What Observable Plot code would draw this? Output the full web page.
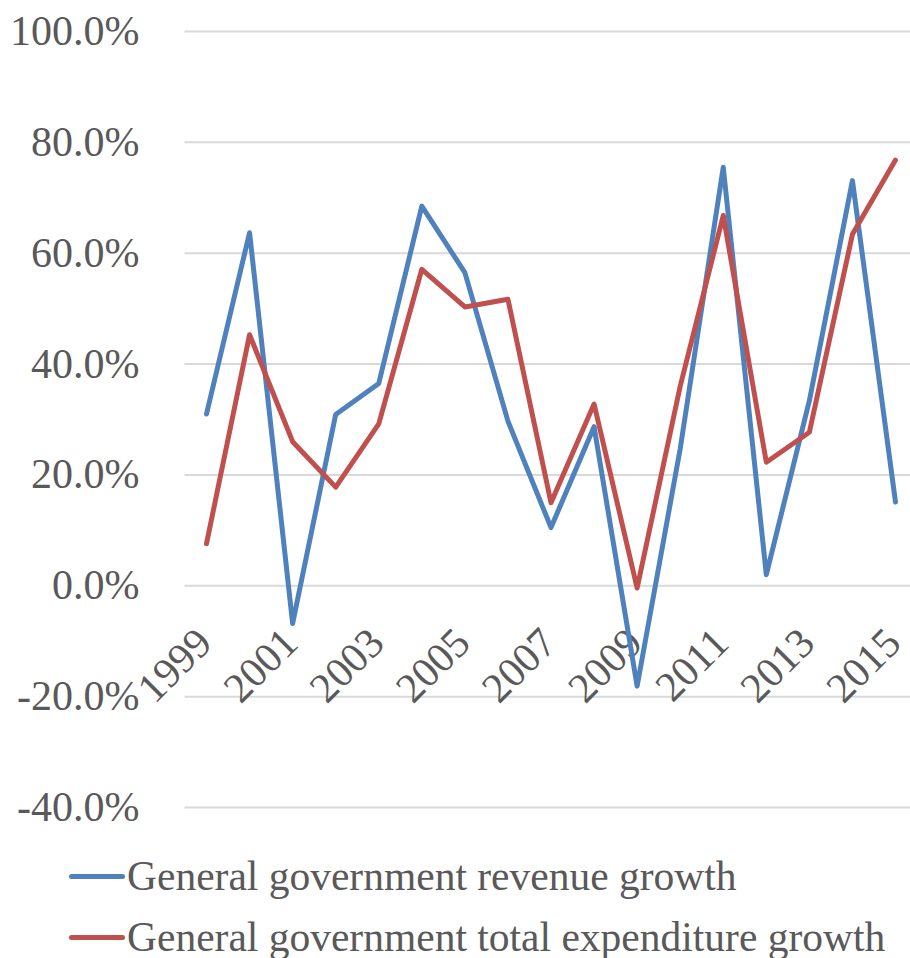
<!DOCTYPE html>
<html>
<head>
<meta charset="utf-8">
<script src="https://cdn.jsdelivr.net/npm/d3@7"></script>
<script src="https://cdn.jsdelivr.net/npm/@observablehq/plot@0.6"></script>
<style>
  html, body { margin: 0; padding: 0; background: #fff; }
  #chart svg { display: block; }
  .legend { font-family: "Liberation Serif", serif; font-size: 41.5px; color: #595959; padding-left: 69px; }
  .legend .row { height: 61px; display: flex; align-items: center; white-space: nowrap; }
  .legend .row span.t { line-height: 1; }
  .legend .sw { display: inline-block; width: 56px; height: 5px; border-radius: 3px; margin-right: 2px; }
</style>
</head>
<body>
<div id="chart"></div>
<div class="legend" id="legend"></div>
<script>
const years = [1999, 2000, 2001, 2002, 2003, 2004, 2005, 2006, 2007, 2008, 2009, 2010, 2011, 2012, 2013, 2014, 2015];
const revenueGrowth = [31.0, 63.7, -6.8, 30.9, 36.5, 68.5, 56.5, 29.7, 10.5, 28.7, -18.1, 24.7, 75.5, 2.0, 33.4, 73.1, 15.1];
const expenditureGrowth = [7.6, 45.3, 26.0, 17.8, 29.2, 57.1, 50.3, 51.7, 15.0, 32.8, -0.4, 36.0, 66.8, 22.3, 27.7, 63.4, 76.8];
const yTicks = [-40, -20, 0, 20, 40, 60, 80, 100];
const xLabels = [1999, 2001, 2003, 2005, 2007, 2009, 2011, 2013, 2015];
const seriesNames = ["General government revenue growth", "General government total expenditure growth"];
const seriesColors = ["#4f81bd", "#c0504d"];

const rows = [];
years.forEach((y, i) => {
  rows.push({year: y, value: revenueGrowth[i], series: seriesNames[0]});
});
years.forEach((y, i) => {
  rows.push({year: y, value: expenditureGrowth[i], series: seriesNames[1]});
});

const chart = Plot.plot({
  width: 910,
  height: 846,
  marginTop: 31,
  marginBottom: 39,
  marginLeft: 206,
  marginRight: 15,
  style: {fontFamily: "'Liberation Serif', serif", fontSize: "42px", color: "#595959", background: "#fff", overflow: "visible"},
  x: {domain: [1999, 2015]},
  y: {domain: [-40, 100]},
  color: {domain: seriesNames, range: seriesColors},
  marks: [
    Plot.ruleY(yTicks, {y: d => d, x1: 1998.5, x2: 2015.5, stroke: "#d9d9d9", strokeWidth: 2}),
    Plot.axisY({ticks: yTicks, tickFormat: d => d.toFixed(1) + "%", tickSize: 0, tickPadding: 67, label: null, fontSize: 42}),
    Plot.axisX({ticks: [], label: null, tickSize: 0}),
    Plot.text(xLabels, {x: d => d, y: () => 0, text: d => String(d), rotate: -45, textAnchor: "end", dy: 50, dx: -2, fontSize: 42, fill: "#595959"}),
    Plot.line(rows, {x: "year", y: "value", stroke: "series", z: "series", strokeWidth: 5, strokeLinejoin: "round", strokeLinecap: "round"})
  ]
});
document.getElementById("chart").appendChild(chart);

const legend = document.getElementById("legend");
seriesNames.forEach((name, i) => {
  const row = document.createElement("div");
  row.className = "row";
  const sw = document.createElement("span");
  sw.className = "sw";
  sw.style.background = seriesColors[i];
  const t = document.createElement("span");
  t.className = "t";
  t.textContent = name;
  row.appendChild(sw);
  row.appendChild(t);
  legend.appendChild(row);
});
</script>
</body>
</html>
